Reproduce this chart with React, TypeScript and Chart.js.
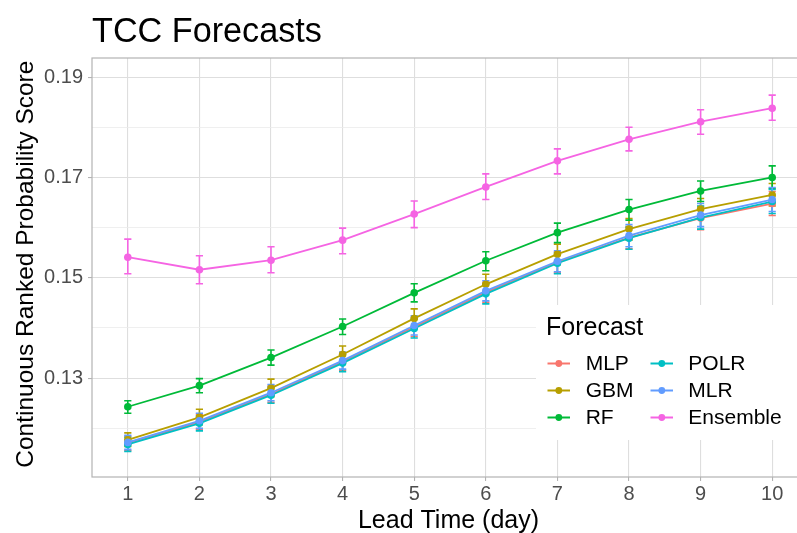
import React, { useEffect, useRef } from "react";
import { Chart, registerables } from "chart.js";

Chart.register(...registerables);

const FONT = "'Liberation Sans', Arial, Helvetica, sans-serif";

const leadTimes = [1, 2, 3, 4, 5, 6, 7, 8, 9, 10];
const yTickValues = [0.12, 0.13, 0.14, 0.15, 0.16, 0.17, 0.18, 0.19];
const yTickLabels = ["0.13", "0.15", "0.17", "0.19"];

const seriesNames = ["MLP", "GBM", "RF", "POLR", "MLR", "Ensemble"];
const seriesColors = ["#F8766D", "#B79F00", "#00BA38", "#00BFC4", "#619CFF", "#F564E3"];

const mlp = [0.117, 0.1213, 0.1268, 0.1333, 0.1402, 0.1471, 0.1531, 0.158, 0.1619, 0.1648];
const mlpLo = [0.1156, 0.1198, 0.1252, 0.1316, 0.1383, 0.1451, 0.151, 0.1558, 0.1596, 0.1624];
const mlpHi = [0.1184, 0.1228, 0.1284, 0.135, 0.1421, 0.1491, 0.1552, 0.1602, 0.1642, 0.1672];

const gbm = [0.1177, 0.1222, 0.128, 0.1347, 0.1419, 0.1487, 0.1547, 0.1597, 0.1637, 0.1665];
const gbmLo = [0.1164, 0.1207, 0.1263, 0.133, 0.1399, 0.1467, 0.1526, 0.1575, 0.1617, 0.1643];
const gbmHi = [0.1191, 0.1238, 0.1298, 0.1364, 0.1438, 0.1507, 0.1567, 0.1618, 0.1658, 0.1688];

const rf = [0.1243, 0.1285, 0.1341, 0.1403, 0.147, 0.1534, 0.159, 0.1636, 0.1673, 0.17];
const rfLo = [0.123, 0.1271, 0.1326, 0.1387, 0.1452, 0.1514, 0.157, 0.1615, 0.1652, 0.1678];
const rfHi = [0.1255, 0.1299, 0.1356, 0.1418, 0.1488, 0.1552, 0.1609, 0.1656, 0.1693, 0.1723];

const polr = [0.1168, 0.121, 0.1266, 0.133, 0.1399, 0.1468, 0.1529, 0.1579, 0.162, 0.1652];
const polrLo = [0.1154, 0.1195, 0.125, 0.1313, 0.138, 0.1448, 0.1508, 0.1557, 0.1597, 0.1628];
const polrHi = [0.1182, 0.1225, 0.1282, 0.1347, 0.1418, 0.1488, 0.155, 0.1601, 0.1643, 0.1676];

const mlr = [0.1172, 0.1215, 0.1271, 0.1335, 0.1405, 0.1474, 0.1533, 0.1584, 0.1625, 0.1656];
const mlrLo = [0.1158, 0.12, 0.1255, 0.1318, 0.1386, 0.1454, 0.1512, 0.1562, 0.1602, 0.1632];
const mlrHi = [0.1186, 0.123, 0.1287, 0.1352, 0.1424, 0.1494, 0.1554, 0.1606, 0.1648, 0.168];

const ensemble = [0.1541, 0.1516, 0.1535, 0.1575, 0.1627, 0.1681, 0.1733, 0.1776, 0.1811, 0.1838];
const ensembleLo = [0.1508, 0.1488, 0.151, 0.1548, 0.16, 0.1656, 0.1707, 0.1753, 0.1786, 0.1814];
const ensembleHi = [0.1577, 0.1544, 0.1562, 0.1599, 0.1653, 0.1707, 0.1757, 0.18, 0.1835, 0.1864];

const seriesValues = [mlp, gbm, rf, polr, mlr, ensemble];
const seriesLo = [mlpLo, gbmLo, rfLo, polrLo, mlrLo, ensembleLo];
const seriesHi = [mlpHi, gbmHi, rfHi, polrHi, mlrHi, ensembleHi];

const CANVAS_W = 812;
const CANVAS_H = 533;

const isMajor = (v: number) => yTickLabels.includes(Number(v).toFixed(2));

export default function App() {
  const ref = useRef<HTMLCanvasElement | null>(null);

  useEffect(() => {
    if (!ref.current) return;

    const errorBars = {
      id: "errorBars",
      beforeDatasetsDraw(chart: any) {
        const { ctx, chartArea } = chart;
        const xs = chart.scales.x;
        const ys = chart.scales.y;
        ctx.save();
        // panel border
        ctx.strokeStyle = "#B3B3B3";
        ctx.lineWidth = 1.2;
        ctx.strokeRect(chartArea.left, chartArea.top, chartArea.right - chartArea.left, chartArea.bottom - chartArea.top);
        ctx.beginPath();
        ctx.rect(chartArea.left, chartArea.top, chartArea.right - chartArea.left, chartArea.bottom - chartArea.top);
        ctx.clip();
        ctx.lineWidth = 1.6;
        for (let s = 0; s < seriesNames.length; s++) {
          ctx.strokeStyle = seriesColors[s];
          for (let j = 0; j < leadTimes.length; j++) {
            const x = xs.getPixelForValue(leadTimes[j]);
            const y1 = ys.getPixelForValue(seriesLo[s][j]);
            const y2 = ys.getPixelForValue(seriesHi[s][j]);
            ctx.beginPath();
            ctx.moveTo(x, y1);
            ctx.lineTo(x, y2);
            ctx.moveTo(x - 3.6, y1);
            ctx.lineTo(x + 3.6, y1);
            ctx.moveTo(x - 3.6, y2);
            ctx.lineTo(x + 3.6, y2);
            ctx.stroke();
          }
        }
        ctx.restore();
      },
      afterDraw(chart: any) {
        const { ctx, chartArea } = chart;
        ctx.save();
        // title
        ctx.fillStyle = "#000";
        ctx.textBaseline = "alphabetic";
        ctx.textAlign = "left";
        ctx.font = `34.2px ${FONT}`;
        ctx.fillText("TCC Forecasts", chartArea.left, 41.7);
        // x-axis title
        ctx.font = `25px ${FONT}`;
        ctx.textAlign = "center";
        ctx.fillText("Lead Time (day)", 448.5, 528.3);
        // y-axis title
        ctx.save();
        ctx.font = `24.5px ${FONT}`;
        ctx.translate(33, 264.2);
        ctx.rotate(-Math.PI / 2);
        ctx.fillText("Continuous Ranked Probability Score", 0, 0);
        ctx.restore();

        // legend
        const lx = 536, ly = 305;
        ctx.fillStyle = "#FFFFFF";
        ctx.fillRect(lx, ly, CANVAS_W - lx, 440 - ly);
        ctx.fillStyle = "#000";
        ctx.textAlign = "left";
        ctx.font = `25px ${FONT}`;
        ctx.fillText("Forecast", 546, 335);
        const colKeyX = [547.5, 650.5];
        const colTextX = [585.7, 688.3];
        const rowY = [363.5, 390.5, 417.5];
        ctx.font = `21px ${FONT}`;
        ctx.textBaseline = "middle";
        for (let s = 0; s < seriesNames.length; s++) {
          const col = Math.floor(s / 3);
          const row = s % 3;
          const ky = rowY[row];
          const kx = colKeyX[col];
          ctx.strokeStyle = seriesColors[s];
          ctx.lineWidth = 2;
          ctx.beginPath();
          ctx.moveTo(kx, ky);
          ctx.lineTo(kx + 22.5, ky);
          ctx.stroke();
          ctx.fillStyle = seriesColors[s];
          ctx.beginPath();
          ctx.arc(kx + 11.3, ky, 3.4, 0, Math.PI * 2);
          ctx.fill();
          ctx.fillStyle = "#000";
          ctx.fillText(seriesNames[s], colTextX[col], ky + 1);
        }
        ctx.restore();
      },
    };

    const chart = new Chart(ref.current, {
      type: "line",
      data: {
        datasets: seriesNames.map((name, s) => ({
          label: name,
          data: leadTimes.map((t, j) => ({ x: t, y: seriesValues[s][j] })),
          borderColor: seriesColors[s],
          backgroundColor: seriesColors[s],
          pointBackgroundColor: seriesColors[s],
          pointBorderColor: seriesColors[s],
          borderWidth: 1.8,
          pointRadius: 3.8,
          pointBorderWidth: 0,
          tension: 0,
          fill: false,
          order: seriesNames.length - s,
        })),
      },
      options: {
        responsive: false,
        animation: false,
        devicePixelRatio: 1,
        layout: { padding: { top: 58, left: 0, right: 4, bottom: 0 } },
        plugins: {
          legend: { display: false },
          title: { display: false },
          tooltip: { enabled: false },
        },
        scales: {
          x: {
            type: "linear",
            min: 0.5,
            max: 10.5,
            afterBuildTicks(scale: any) {
              scale.ticks = leadTimes.map((v) => ({ value: v }));
            },
            afterFit(scale: any) {
              scale.height = 56;
            },
            border: { display: false },
            grid: {
              color: "#DEDEDE",
              lineWidth: 1.1,
              drawTicks: true,
              tickLength: 4,
              tickColor: "#B3B3B3",
            },
            ticks: {
              autoSkip: false,
              maxRotation: 0,
              padding: 1,
              color: "#4D4D4D",
              font: { family: FONT, size: 20 },
              callback: (v: any) => String(v),
            },
          },
          y: {
            type: "linear",
            min: 0.1103,
            max: 0.1938,
            afterBuildTicks(scale: any) {
              scale.ticks = yTickValues.map((v) => ({ value: v }));
            },
            afterFit(scale: any) {
              scale.width = 92;
            },
            border: { display: false },
            grid: {
              color: (c: any) => (isMajor(c.tick.value) ? "#DEDEDE" : "#EBEBEB"),
              lineWidth: (c: any) => (isMajor(c.tick.value) ? 1.1 : 0.8),
              drawTicks: true,
              tickLength: 4,
              tickColor: (c: any) => (isMajor(c.tick.value) ? "#B3B3B3" : "rgba(0,0,0,0)"),
            },
            ticks: {
              autoSkip: false,
              padding: 5,
              color: "#4D4D4D",
              font: { family: FONT, size: 20 },
              callback: (v: any) => (isMajor(v) ? Number(v).toFixed(2) : ""),
            },
          },
        },
      },
      plugins: [errorBars],
    });

    return () => chart.destroy();
  }, []);

  return (
    <div
      style={{
        position: "fixed",
        left: 0,
        top: 0,
        width: 797,
        height: 533,
        overflow: "hidden",
        background: "#FFFFFF",
      }}
    >
      <canvas ref={ref} width={CANVAS_W} height={CANVAS_H} style={{ width: CANVAS_W, height: CANVAS_H, display: "block" }} />
    </div>
  );
}
